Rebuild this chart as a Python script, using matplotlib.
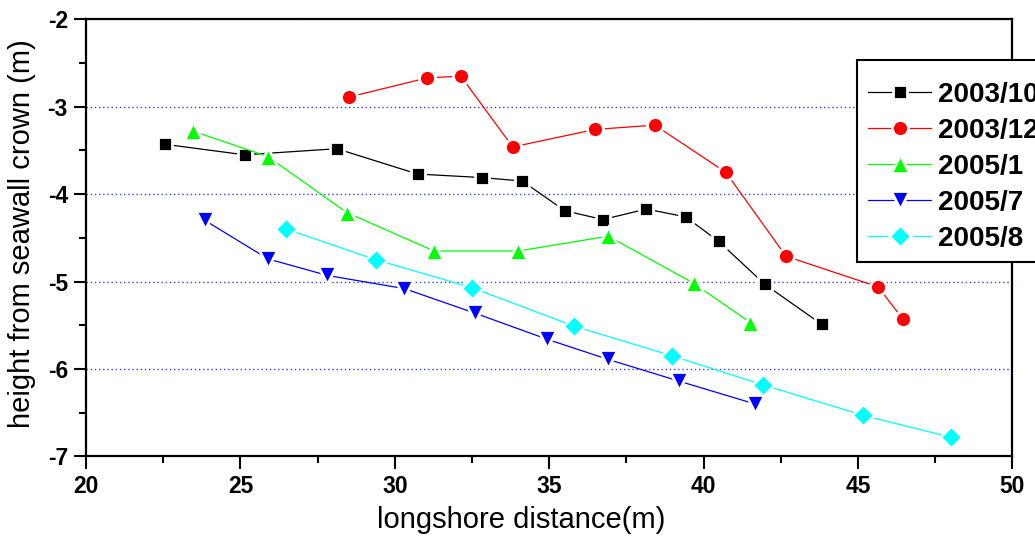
import matplotlib
matplotlib.use("Agg")
import matplotlib.pyplot as plt
from matplotlib.ticker import MultipleLocator

plt.rcParams['font.family'] = ['Liberation Sans', 'DejaVu Sans']
plt.rcParams['axes.unicode_minus'] = False

# beach profile: longshore distance (m) vs height from seawall crown (m)
x_2003_10 = [22.56, 25.14, 28.12, 30.74, 32.82, 34.13, 35.51, 36.74, 38.15, 39.42, 40.49, 41.98, 43.83]
y_2003_10 = [-3.43, -3.55, -3.48, -3.77, -3.81, -3.85, -4.19, -4.29, -4.17, -4.26, -4.54, -5.03, -5.49]

x_2003_12 = [28.51, 31.05, 32.14, 33.82, 36.48, 38.42, 40.72, 42.67, 45.65, 46.46]
y_2003_12 = [-2.89, -2.67, -2.65, -3.46, -3.26, -3.21, -3.75, -4.71, -5.06, -5.43]

x_2005_1 = [23.47, 25.89, 28.44, 31.27, 34.00, 36.91, 39.68, 41.52]
y_2005_1 = [-3.28, -3.57, -4.21, -4.65, -4.65, -4.48, -5.02, -5.47]

x_2005_7 = [23.85, 25.89, 27.82, 30.31, 32.59, 34.94, 36.91, 39.22, 41.67]
y_2005_7 = [-4.30, -4.74, -4.93, -5.08, -5.36, -5.66, -5.89, -6.14, -6.40]

x_2005_8 = [26.49, 29.38, 32.50, 35.81, 38.99, 41.91, 45.17, 48.00]
y_2005_8 = [-4.40, -4.75, -5.07, -5.51, -5.85, -6.18, -6.53, -6.78]

labels = ['2003/10', '2003/12', '2005/1', '2005/7', '2005/8']
colors = ['#000000', '#ff0000', '#00ff00', '#0000ff', '#00ffff']
markers = ['s', 'o', '^', 'v', 'D']
sizes = [10.5, 11.5, 13, 13, 11]

series = [(x_2003_10, y_2003_10), (x_2003_12, y_2003_12), (x_2005_1, y_2005_1),
          (x_2005_7, y_2005_7), (x_2005_8, y_2005_8)]

fig = plt.figure(figsize=(10.35, 5.42), dpi=100)
ax = fig.add_axes([0.0831, 0.1578, 0.895, 0.8066])

# white marker edges leave a small gap where the line meets each marker
for (xs, ys), lab, c, m, s in zip(series, labels, colors, markers, sizes):
    ax.plot(xs, ys, color=c, lw=0.9, marker=m, ms=s, mfc=c, mec='white',
            mew=2.0, label=lab)

ax.set_xlim(20, 50)
ax.set_ylim(-7, -2)
ax.xaxis.set_major_locator(MultipleLocator(5))
ax.xaxis.set_minor_locator(MultipleLocator(2.5))
ax.yaxis.set_major_locator(MultipleLocator(1))
ax.yaxis.set_minor_locator(MultipleLocator(0.5))

ax.grid(axis='y', which='major', color='#3a3aff', linestyle=(0, (1, 2)), lw=1.0)
ax.set_axisbelow(True)

for sp in ax.spines.values():
    sp.set_linewidth(1.6)

ax.tick_params(which='major', direction='out', length=9, width=1.5, pad=4)
ax.tick_params(which='minor', direction='out', length=5, width=1.5)

for lbl in ax.get_xticklabels() + ax.get_yticklabels():
    lbl.set_fontweight('bold')
    lbl.set_fontsize(16.5)

ax.set_xlabel('longshore distance(m)', fontsize=21)
ax.set_ylabel('height from seawall crown (m)', fontsize=21)
ax.xaxis.set_label_coords(0.47, -0.113)
ax.yaxis.set_label_coords(-0.054, 0.51)

# legend box runs past the right edge of the figure; a tiny blank title
# leaves some room above the first entry
leg = ax.legend(loc='upper left', bbox_to_anchor=(857 / 1035, 1 - 60 / 542),
                bbox_transform=fig.transFigure, borderaxespad=0,
                prop={'weight': 'bold', 'size': 20}, handlelength=2.3,
                handletextpad=0.25, labelspacing=0.36, borderpad=0.38,
                title=' ', title_fontsize=1,
                fancybox=False, framealpha=1, edgecolor='black')
leg.get_frame().set_linewidth(1.5)

fig.savefig('out.png', dpi=100)
